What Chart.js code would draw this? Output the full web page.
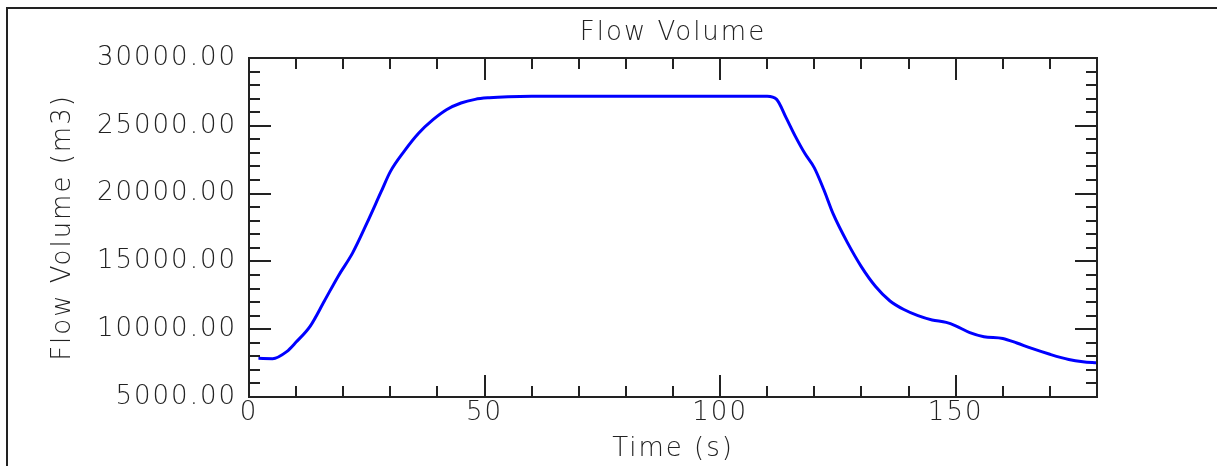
<!DOCTYPE html>
<html>
<head>
<meta charset="utf-8">
<title>Flow Volume</title>
<script src="https://cdn.jsdelivr.net/npm/chart.js@4/dist/chart.umd.min.js"></script>
<style>
  html, body { margin: 0; padding: 0; background: #fff; }
  #wrap { width: 1217px; height: 466px; }
</style>
</head>
<body>
<div id="wrap"><canvas id="flowChart"></canvas></div>
<script>
// time (s) and flow volume (m3)
const times = [2, 5, 8, 10, 13, 16, 19, 22, 25, 28, 30, 33, 36, 39, 42, 45, 48, 51, 55, 60,
    70, 80, 90, 100, 110, 112, 114, 116, 118, 120, 122, 124, 127, 130, 133, 136, 139, 142,
    145, 148, 150, 153, 156, 160, 163, 166, 170, 174, 177, 180];
const flowVolume = [7850, 7830, 8350, 9050, 10230, 12080, 13950, 15630, 17800, 20100, 21620,
    23150, 24450, 25430, 26200, 26680, 26950, 27070, 27150, 27180,
    27180, 27180, 27180, 27180, 27180, 26950, 25600, 24200, 22950, 21900, 20300, 18500,
    16400, 14600, 13150, 12100, 11450, 11000, 10680, 10500, 10250, 9750, 9450, 9320,
    8980, 8600, 8150, 7770, 7600, 7520];

const xTickValues = [0, 50, 100, 150];
const yTickValues = [5000, 10000, 15000, 20000, 25000, 30000];

const FONT = { family: "'DejaVu Sans', sans-serif", size: 26, weight: 200, lineHeight: 1.2 };
const INK = '#222';

// the original plot font is wide and airy, so spread the letters a bit
const spacing = {
    id: 'spacing',
    beforeLayout(chart) { chart.ctx.letterSpacing = '2px'; },
    beforeDraw(chart) { chart.ctx.letterSpacing = '2px'; }
};

// inward tick marks on all four sides, plus the outer frame
const frameTicks = {
    id: 'frameTicks',
    afterDraw(chart) {
        const { ctx, chartArea: a, scales: { x, y } } = chart;
        ctx.save();
        ctx.strokeStyle = INK;
        ctx.lineWidth = 2;

        ctx.beginPath();
        ctx.moveTo(7, chart.height);
        ctx.lineTo(7, 8);
        ctx.lineTo(chart.width, 8);
        ctx.stroke();

        ctx.strokeRect(a.left, a.top, a.right - a.left, a.bottom - a.top);

        for (let t = x.min + 10; t < x.max; t += 10) {
            const px = Math.round(x.getPixelForValue(t));
            const len = t % 50 === 0 ? 22 : 11;
            ctx.beginPath();
            ctx.moveTo(px, a.bottom); ctx.lineTo(px, a.bottom - len);
            ctx.moveTo(px, a.top); ctx.lineTo(px, a.top + len);
            ctx.stroke();
        }
        for (let v = y.min + 1000; v < y.max; v += 1000) {
            const py = Math.round(y.getPixelForValue(v));
            const len = v % 5000 === 0 ? 22 : 11;
            ctx.beginPath();
            ctx.moveTo(a.left, py); ctx.lineTo(a.left + len, py);
            ctx.moveTo(a.right, py); ctx.lineTo(a.right - len, py);
            ctx.stroke();
        }
        ctx.restore();
    }
};

new Chart(document.getElementById('flowChart'), {
    type: 'line',
    data: {
        datasets: [{
            data: times.map((t, i) => ({ x: t, y: flowVolume[i] })),
            borderColor: 'rgb(0, 0, 255)',
            borderWidth: 3,
            pointRadius: 0,
            cubicInterpolationMode: 'monotone',
            fill: false
        }]
    },
    options: {
        responsive: true,
        maintainAspectRatio: false,
        animation: false,
        layout: { padding: { left: 0, right: 120, top: 0, bottom: 0 } },
        plugins: {
            legend: { display: false },
            tooltip: { enabled: false },
            title: { display: false }
        },
        scales: {
            x: {
                type: 'linear',
                min: 0,
                max: 180,
                grid: { display: false, drawTicks: false },
                border: { display: false },
                afterBuildTicks: (scale) => { scale.ticks = xTickValues.map(v => ({ value: v })); },
                afterFit: (scale) => { scale.height = 69; },
                ticks: { color: INK, font: FONT, padding: 1, maxRotation: 0 },
                title: { display: true, text: 'Time (s)', color: INK, font: FONT, padding: { top: 0, bottom: 1 } }
            },
            // top axis only carries the chart title, centred over the plot
            xTop: {
                type: 'linear',
                position: 'top',
                min: 0,
                max: 180,
                grid: { display: false, drawTicks: false },
                border: { display: false },
                ticks: { display: false },
                afterFit: (scale) => { scale.height = 58; },
                title: { display: true, text: 'Flow Volume', color: INK, font: FONT, padding: { top: 18, bottom: 0 } }
            },
            y: {
                type: 'linear',
                min: 5000,
                max: 30000,
                grid: { display: false, drawTicks: false },
                border: { display: false },
                afterBuildTicks: (scale) => { scale.ticks = yTickValues.map(v => ({ value: v })); },
                afterFit: (scale) => { scale.width = 249; },
                ticks: {
                    color: INK,
                    font: FONT,
                    padding: 12,
                    callback: (v) => Number(v).toFixed(2)
                },
                title: { display: true, text: 'Flow Volume (m3)', color: INK, font: FONT, padding: { top: 48, bottom: 0 } }
            }
        }
    },
    plugins: [spacing, frameTicks]
});
</script>
</body>
</html>
